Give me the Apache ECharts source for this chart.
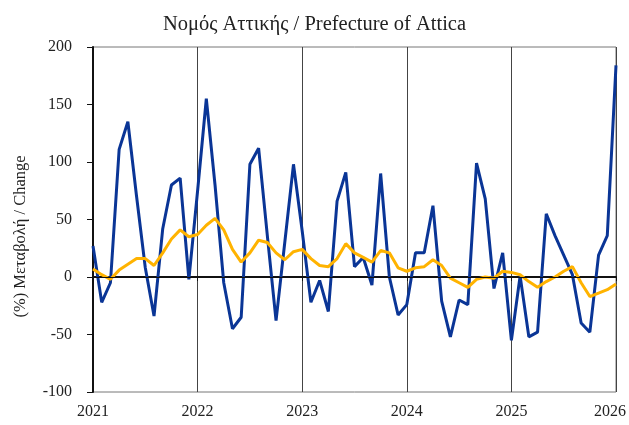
<!DOCTYPE html>
<html>
<head>
<meta charset="utf-8">
<script src="https://cdn.jsdelivr.net/npm/echarts@6/dist/echarts.min.js"></script>
<style>
  html, body { margin: 0; padding: 0; background: #fff; }
  #chart { width: 629px; height: 425px; }
</style>
</head>
<body>
<div id="chart"></div>
<script>
// year tick labels, one category per month from Jan 2021 to Jan 2026
const years = ['2021', '2022', '2023', '2024', '2025', '2026'];
const months = [];
years.forEach(function (y, k) {
  const last = k === years.length - 1 ? 1 : 12;
  for (let m = 1; m <= last; m++) {
    months.push(y + '-' + (m < 10 ? '0' + m : m));
  }
});

// monthly change (%)
const monthly = [
  27, -22, -5, 111, 135, 70, 8, -34, 42, 80, 86, -2,
  75, 155, 80, -5, -45, -35, 98, 112, 36, -38, 30, 98,
  40, -22, -3, -30, 66, 91, 9, 17, -7, 90, 0, -33,
  -24, 21, 21, 62, -21, -52, -20, -24, 99, 68, -10, 21,
  -55, 1, -52, -48, 55, 36, 19, 2, -40, -48, 19, 36,
  184
];
// smoothed change (%)
const smoothed = [
  7, 2, -2, 6, 11, 16, 16, 10, 21, 33, 41, 35,
  37, 45, 51, 41, 24, 13, 21, 32, 30, 21, 15, 22,
  24, 16, 10, 9, 16, 29, 21, 17, 13, 23, 21, 8,
  5, 8, 9, 15, 10, -1, -5, -9, -2, 0, -1, 5,
  4, 2, -4, -9, -4, 0, 5, 9, -5, -17, -14, -11,
  -6
];

const serif = '"Liberation Serif", "DejaVu Serif", serif';

const chart = echarts.init(document.getElementById('chart'));
chart.setOption({
  animation: false,
  title: {
    text: 'Νομός Αττικής / Prefecture of Attica',
    left: 'center',
    top: 9,
    textStyle: { fontFamily: serif, fontSize: 20.5, fontWeight: 'normal', color: '#222' }
  },
  grid: {
    left: 93, right: 13, top: 47, bottom: 33,
    outerBoundsMode: 'none',
    show: true, borderColor: '#777', borderWidth: 1
  },
  xAxis: {
    type: 'category',
    data: months,
    boundaryGap: false,
    axisLine: { lineStyle: { color: '#111', width: 2 } },
    axisTick: { interval: 11, length: 4, lineStyle: { color: '#111' } },
    axisLabel: {
      interval: 11, margin: 12, color: '#222',
      fontFamily: serif, fontSize: 16,
      formatter: function (v) {
        const y = v.slice(0, 4);
        // last year label is nudged left so it stays inside the canvas
        return y === years[years.length - 1] ? '{last|' + y + '}' : y;
      },
      rich: {
        last: { fontFamily: serif, fontSize: 16, color: '#222', padding: [0, 12, 0, 0] }
      }
    },
    splitLine: { show: true, interval: 11, lineStyle: { color: '#444', width: 1 } }
  },
  yAxis: {
    type: 'value',
    min: -100, max: 200, interval: 50,
    name: '(%) Μεταβολή / Change',
    nameLocation: 'middle',
    nameGap: 64,
    nameTextStyle: { fontFamily: serif, fontSize: 16.5, color: '#222', padding: [0, 34, 0, 0] },
    axisLine: { show: true, lineStyle: { color: '#111', width: 2 } },
    axisTick: { show: true, length: 6, lineStyle: { color: '#111' } },
    axisLabel: { margin: 21, color: '#222', fontFamily: serif, fontSize: 16 },
    splitLine: { show: false }
  },
  series: [
    {
      type: 'line',
      data: monthly,
      symbol: 'none',
      lineStyle: { color: '#0a3596', width: 3 },
      markLine: {
        silent: true,
        symbol: 'none',
        label: { show: false },
        lineStyle: { color: '#111', width: 1, type: 'solid' },
        data: [{ yAxis: 0 }]
      }
    },
    {
      type: 'line',
      data: smoothed,
      symbol: 'none',
      lineStyle: { color: '#ffb300', width: 3 }
    }
  ]
});
</script>
</body>
</html>
